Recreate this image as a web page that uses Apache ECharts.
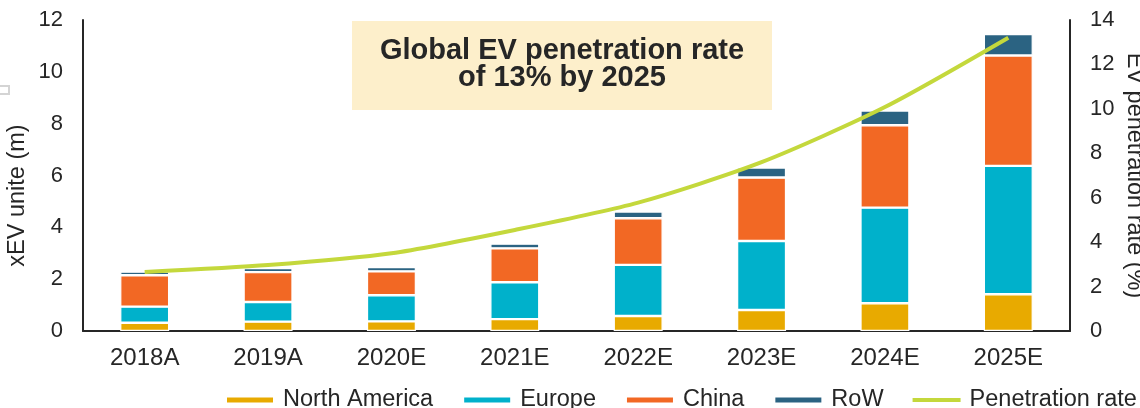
<!DOCTYPE html>
<html lang="en">
<head>
    <meta charset="utf-8">
    <title>Global EV penetration</title>
    <style>
        html, body { margin: 0; padding: 0; background: #fff; }
        #main { width: 1140px; height: 408px; }
    </style>
</head>
<body>
<div id="main"></div>
<script src="https://cdn.jsdelivr.net/npm/echarts@6/dist/echarts.min.js"></script>
<script type="text/javascript">
    // data
    var years = ['2018A', '2019A', '2020E', '2021E', '2022E', '2023E', '2024E', '2025E'];
    var northAmerica = [0.32, 0.36, 0.37, 0.46, 0.58, 0.81, 1.07, 1.42];
    var europe = [0.62, 0.76, 1.01, 1.42, 1.97, 2.66, 3.69, 4.95];
    var china = [1.21, 1.15, 0.92, 1.31, 1.80, 2.45, 3.18, 4.26];
    var row = [0.14, 0.16, 0.17, 0.18, 0.26, 0.39, 0.57, 0.83];
    var penetration = [2.66, 2.97, 3.5, 4.55, 5.78, 7.6, 10.08, 13.2];

    var font = '"Liberation Sans", Arial, sans-serif';
    var txt = '#262626';

    var myChart = echarts.init(document.getElementById('main'));

    function bar(name, data, color) {
        return {
            name: name,
            type: 'bar',
            stack: 'total',
            barWidth: 49,
            data: data,
            itemStyle: { color: color, borderColor: '#fff', borderWidth: 1.2 }
        };
    }

    var option = {
        backgroundColor: '#fff',
        animation: false,
        textStyle: { fontFamily: font },
        grid: { left: 83, right: 70, top: 20, bottom: 77, outerBoundsMode: 'none', containLabel: false },
        legend: {
            left: 220,
            top: 383,
            width: 1000,
            itemWidth: 48,
            itemHeight: 7,
            itemGap: 29,
            textStyle: { fontFamily: font, fontSize: 23.5, color: txt, padding: [0, 0, 0, 4] },
            data: [
                { name: 'North America', icon: 'rect' },
                { name: 'Europe', icon: 'rect' },
                { name: 'China', icon: 'rect' },
                { name: 'RoW', icon: 'rect' },
                // thin bar inside a 48x7 box, like a line key
                { name: 'Penetration rate', icon: 'path://M0,0M0,7M0,1.5L48,1.5L48,5.5L0,5.5Z' }
            ]
        },
        xAxis: {
            type: 'category',
            data: years,
            axisLine: { lineStyle: { color: txt, width: 2 } },
            axisTick: { show: false },
            axisLabel: { fontFamily: font, fontSize: 24, color: txt, margin: 15 }
        },
        yAxis: [
            {
                type: 'value',
                min: 0, max: 12, interval: 2,
                name: 'xEV unite (m)',
                nameLocation: 'middle',
                nameGap: 53,
                nameMoveOverlap: false,
                nameTextStyle: { fontFamily: font, fontSize: 23.5, color: txt, padding: [0, 40, 0, 0] },
                axisLine: { show: true, lineStyle: { color: txt, width: 2 } },
                axisTick: { show: false },
                splitLine: { show: false },
                axisLabel: { fontFamily: font, fontSize: 22, color: txt, margin: 20 }
            },
            {
                type: 'value',
                min: 0, max: 14, interval: 2,
                name: 'EV penetration rate (%)',
                nameLocation: 'middle',
                nameGap: 52,
                nameMoveOverlap: false,
                nameRotate: -90,
                nameTextStyle: { fontFamily: font, fontSize: 23.5, color: txt },
                axisLine: { show: true, lineStyle: { color: txt, width: 2 } },
                axisTick: { show: false },
                splitLine: { show: false },
                axisLabel: { fontFamily: font, fontSize: 22, color: txt, margin: 20 }
            }
        ],
        graphic: [
            {
                type: 'rect',
                shape: { x: -2, y: 86, width: 11, height: 8 },
                style: { fill: 'none', stroke: '#d4d4d4', lineWidth: 2 }
            },
            {
                type: 'rect',
                shape: { x: 352, y: 21, width: 420, height: 89 },
                style: { fill: '#fdefcb' }
            },
            {
                type: 'text',
                x: 562, y: 64,
                style: {
                    text: 'Global EV penetration rate\nof 13% by 2025',
                    font: 'bold 29px ' + font,
                    fill: txt,
                    align: 'center',
                    verticalAlign: 'middle',
                    lineHeight: 27
                }
            }
        ],
        series: [
            bar('North America', northAmerica, '#e8aa00'),
            bar('Europe', europe, '#00b1cb'),
            bar('China', china, '#f26824'),
            bar('RoW', row, '#2b6382'),
            {
                name: 'Penetration rate',
                type: 'line',
                yAxisIndex: 1,
                data: penetration,
                smooth: 0.25,
                symbol: 'none',
                lineStyle: { color: '#c4d83c', width: 4 },
                itemStyle: { color: '#c4d83c' }
            }
        ]
    };

    myChart.setOption(option);
</script>
</body>
</html>
